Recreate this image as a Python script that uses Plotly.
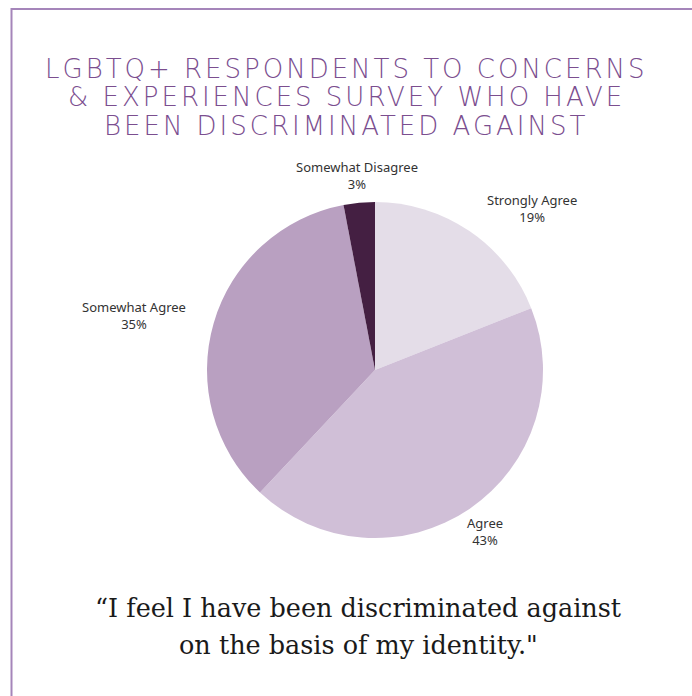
import math
import plotly.graph_objects as go

labels = ["Strongly Agree", "Agree", "Somewhat Agree", "Somewhat Disagree"]
values = [19, 43, 35, 3]
colors = ["#E4DDE8", "#D0BFD7", "#B9A0C1", "#441F42"]
label_xanchor = ["left", "center", "right", "center"]

title_lines = ["LGBTQ+ RESPONDENTS TO CONCERNS",
               "& EXPERIENCES SURVEY WHO HAVE",
               "BEEN DISCRIMINATED AGAINST"]
quote_lines = ["\u201cI feel I have been discriminated against",
               "on the basis of my identity.\""]

W, H = 692, 696
CX, CY, R = 375, 370, 168  # pie centre / radius in pixels
LABEL_R = 195

fig = go.Figure(go.Pie(
    labels=labels,
    values=values,
    sort=False,
    direction="clockwise",
    rotation=0,
    marker=dict(colors=colors, line=dict(width=0)),
    textinfo="none",
    hoverinfo="label+percent",
    showlegend=False,
    domain=dict(x=[(CX - R) / W, (CX + R) / W],
                y=[(H - CY - R) / H, (H - CY + R) / H]),
))

annotations = []
total = sum(values)
cum = 0
for lab, val, xa in zip(labels, values, label_xanchor):
    mid = (cum + val / 2) / total * 2 * math.pi
    cum += val
    px = CX + LABEL_R * math.sin(mid)
    py = CY - LABEL_R * math.cos(mid)
    pct = round(val / total * 100)
    annotations.append(dict(
        text=f"{lab}<br>{pct}%", x=px / W, y=1 - py / H, xref="paper", yref="paper",
        xanchor=xa, yanchor="middle", align="center", showarrow=False,
        font=dict(family="Noto Sans", size=13, color="#333333")))

for i, line in enumerate(title_lines):
    annotations.append(dict(
        text=f'<span style="letter-spacing:3px">{line}</span>',
        x=0.5, xref="paper", y=1 - (69 + 28.5 * i) / H, yref="paper",
        xanchor="center", yanchor="middle", showarrow=False,
        font=dict(family="DejaVu Sans", size=26, color="#7B4E8F", weight=200)))
for i, line in enumerate(quote_lines):
    annotations.append(dict(
        text=line, x=358 / W, xref="paper", y=1 - (608 + 37 * i) / H, yref="paper",
        xanchor="center", yanchor="middle", showarrow=False,
        font=dict(family="DejaVu Serif", size=25.5, color="#1A1A1A")))

fig.update_layout(
    width=W, height=H,
    margin=dict(l=0, r=0, t=0, b=0),
    paper_bgcolor="white", plot_bgcolor="white",
    annotations=annotations,
    shapes=[dict(type="rect", xref="paper", yref="paper",
                 x0=11.5 / W, x1=1.05, y0=-0.05, y1=1 - 9 / H,
                 line=dict(color="#A585BA", width=2))],
)

fig.write_html("out.html")
